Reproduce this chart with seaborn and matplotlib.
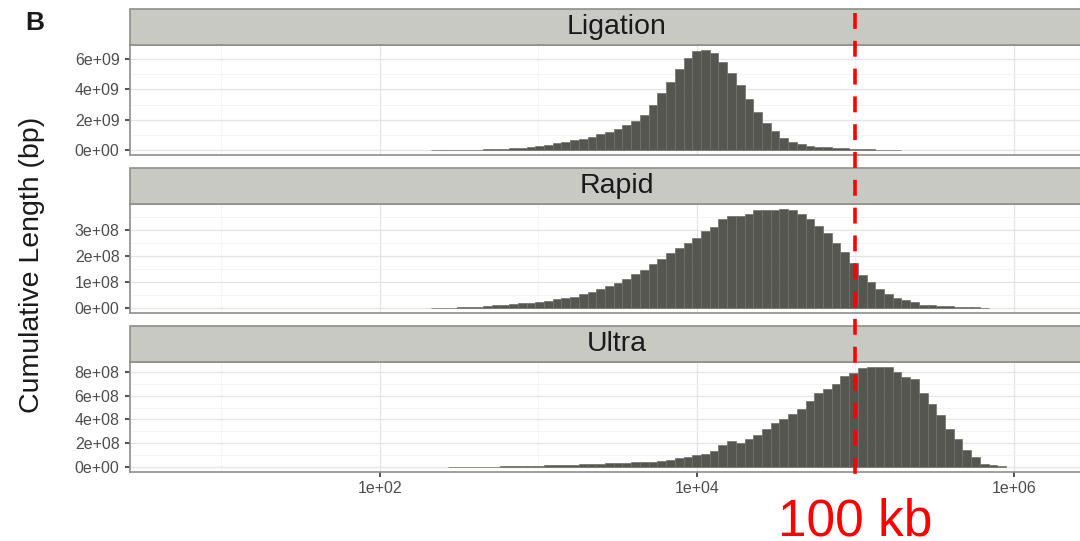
import numpy as np
import pandas as pd
import matplotlib
matplotlib.use("Agg")
import matplotlib.pyplot as plt
import matplotlib.ticker as mticker
import matplotlib.transforms as mtransforms
from matplotlib.lines import Line2D
from matplotlib.patches import Rectangle
import seaborn as sns

# ---- data: cumulative read length per log10(read length) bin ----
samples = ["Ligation", "Rapid", "Ultra"]

log_first_edge = 2.21      # log10(bp) of the first bin edge
log_bin_width = 0.055      # bin width in log10 units
n_bins = 70

ligation_start_bin = 2
ligation_gbp = [0.004, 0.008, 0.012, 0.018, 0.024,
                0.03, 0.04, 0.065, 0.09, 0.11, 0.15, 0.19, 0.26, 0.35, 0.43,
                0.52, 0.63, 0.74, 0.87, 1.04, 1.21, 1.39, 1.62, 1.90, 2.32,
                2.97, 3.74, 4.50, 5.37, 6.10, 6.56, 6.60, 6.39, 5.84, 5.09,
                4.29, 3.35, 2.49, 1.77, 1.23, 0.80, 0.52, 0.37, 0.28, 0.22,
                0.17, 0.13, 0.10, 0.08, 0.06, 0.04, 0.03, 0.02, 0.015]

rapid_start_bin = 2
rapid_100mbp = [0.004, 0.007,
                0.01, 0.025, 0.04, 0.05, 0.075, 0.10, 0.125, 0.15, 0.175, 0.20,
                0.24, 0.28, 0.33, 0.38, 0.44, 0.52, 0.60, 0.73, 0.83, 0.96,
                1.11, 1.29, 1.47, 1.69, 1.89, 2.10, 2.30, 2.49, 2.69,
                2.97, 3.09, 3.40, 3.52, 3.52, 3.60, 3.75, 3.75, 3.77, 3.80,
                3.75, 3.60, 3.40, 3.14, 2.87, 2.49, 2.14, 1.74, 1.26, 0.98,
                0.73, 0.52, 0.38, 0.29, 0.23, 0.11, 0.10, 0.09, 0.075, 0.05,
                0.04, 0.025, 0.015]

ultra_start_bin = 4
ultra_100mbp = [0.005, 0.008, 0.012, 0.018, 0.025, 0.035, 0.045, 0.06, 0.08, 0.10,
                0.12, 0.14, 0.16, 0.18, 0.20, 0.22, 0.24, 0.27, 0.30, 0.33,
                0.36, 0.39, 0.42, 0.46, 0.53, 0.62, 0.72, 0.83, 0.98, 1.13,
                1.33, 1.82, 2.18, 2.04, 2.38, 2.73, 3.20, 3.70, 4.08, 4.43,
                4.92, 5.53, 6.19, 6.56, 6.95, 7.63, 7.93, 8.35, 8.42, 8.42,
                8.42, 8.00, 7.55, 7.42, 6.19, 5.29, 4.40, 3.22, 2.39, 1.42,
                0.85, 0.29, 0.14, 0.055]

y_ticks = {
    "Ligation": [0, 2e9, 4e9, 6e9],
    "Rapid": [0, 1e8, 2e8, 3e8],
    "Ultra": [0, 2e8, 4e8, 6e8, 8e8],
}
x_ticks = [1e2, 1e4, 1e6]
x_tick_labels = ["1e+02", "1e+04", "1e+06"]
cutoff_bp = 1e5
cutoff_label = "100 kb"


def to_frame(name, start_bin, values, unit):
    centers = log_first_edge + (start_bin + np.arange(len(values)) + 0.5) * log_bin_width
    return pd.DataFrame({"sample": name,
                         "read_length": 10 ** centers,
                         "cum_len": np.asarray(values) * unit})


df = pd.concat([
    to_frame("Ligation", ligation_start_bin, ligation_gbp, 1e9),
    to_frame("Rapid", rapid_start_bin, rapid_100mbp, 1e8),
    to_frame("Ultra", ultra_start_bin, ultra_100mbp, 1e8),
], ignore_index=True)

# ---- styling ----
sns.set_theme(style="white")
plt.rcParams["font.family"] = ["Liberation Sans", "DejaVu Sans"]

W, H = 1080, 541
fig = plt.figure(figsize=(W / 100, H / 100), dpi=100)

bar_color = "#55564f"
border_color = "#8e8e8a"
strip_color = "#c9c9c4"

# panel boxes in pixels: (top, bottom)
panel_px = [(45, 155), (204, 313), (362, 472)]
left_px, right_px = 130, 1104
strip_px = 36
x_lo, x_hi = 10 ** 0.4227, 10 ** 6.568

axes = []
for name, (top, bot) in zip(samples, panel_px):
    ax = fig.add_axes([left_px / W, 1 - bot / H, (right_px - left_px) / W, (bot - top) / H])
    sub = df[df["sample"] == name]
    sns.histplot(data=sub, x="read_length", weights="cum_len",
                 binwidth=log_bin_width,
                 binrange=(log_first_edge, log_first_edge + n_bins * log_bin_width),
                 log_scale=True, ax=ax, color=bar_color, alpha=1,
                 edgecolor="#707069", linewidth=0.5)
    # empty bins should not leave an outline along the baseline
    for patch in ax.patches:
        if patch.get_height() <= 0:
            patch.set_linewidth(0)
    ax.set_xlim(x_lo, x_hi)
    ymax = sub["cum_len"].max()
    ax.set_ylim(-0.05 * ymax, 1.05 * ymax)
    ax.set_xlabel("")
    ax.set_ylabel("")

    ticks = y_ticks[name]
    ax.yaxis.set_major_locator(mticker.FixedLocator(ticks))
    step = ticks[1] - ticks[0]
    minor = [t + step / 2 for t in ticks]
    ax.yaxis.set_minor_locator(mticker.FixedLocator(minor))
    ax.yaxis.set_major_formatter(mticker.FuncFormatter(lambda v, p: format(v, ".0e")))
    ax.yaxis.set_minor_formatter(mticker.NullFormatter())

    ax.xaxis.set_major_locator(mticker.FixedLocator(x_ticks))
    ax.xaxis.set_minor_locator(mticker.FixedLocator([1e1, 1e3, 1e5]))
    ax.xaxis.set_minor_formatter(mticker.NullFormatter())

    ax.grid(which="major", color="#e4e4e4", linewidth=0.9)
    ax.grid(which="minor", color="#f2f2f2", linewidth=0.6)
    ax.set_axisbelow(True)

    ax.tick_params(axis="y", which="major", left=True, length=3.5, width=1.2,
                   color="#333333", labelsize=11.5, labelcolor="#4d4d4d", pad=4)
    ax.tick_params(axis="both", which="minor", length=0)
    ax.tick_params(axis="x", which="major", bottom=False, labelbottom=False)

    for sp in ax.spines.values():
        sp.set_color(border_color)
        sp.set_linewidth(1.2)

    # facet strip
    h_frac = strip_px / (bot - top)
    ax.add_patch(Rectangle((0, 1), 1, h_frac, transform=ax.transAxes,
                           facecolor=strip_color, edgecolor=border_color,
                           linewidth=1.2, clip_on=False, zorder=3))
    ax.text(0.5, 1 + h_frac / 2, name, transform=ax.transAxes, ha="center",
            va="center", fontsize=20.5, color="#1a1a1a", zorder=4)
    axes.append(ax)

bottom_ax = axes[-1]
bottom_ax.set_xticklabels(x_tick_labels)
bottom_ax.tick_params(axis="x", which="major", bottom=True, labelbottom=True,
                      length=3.5, width=1.2, color="#333333", labelsize=11.5,
                      labelcolor="#4d4d4d", pad=3)

# y axis title and panel letter
fig.text(32 / W, 1 - 265 / H, "Cumulative Length (bp)", rotation=90,
         ha="center", va="center", fontsize=20.5, color="#1a1a1a")
fig.text(35 / W, 1 - 23 / H, "B", ha="center", va="center", fontsize=19,
         fontweight="bold", color="#1a1a1a")

# 100 kb cutoff across all panels
blend = mtransforms.blended_transform_factory(bottom_ax.transData, fig.transFigure)
cut = Line2D([cutoff_bp, cutoff_bp], [1 - 13 / H, 1 - 478 / H], transform=blend,
             color="#ff0000", linewidth=2.6, zorder=10)
cut.set_dashes([4.4, 3.3])
fig.add_artist(cut)
fig.text(cutoff_bp, 1 - 535 / H, cutoff_label, transform=blend, ha="center",
         va="baseline", fontsize=37, color="#ff0000")

fig.savefig("out.png", dpi=100)
